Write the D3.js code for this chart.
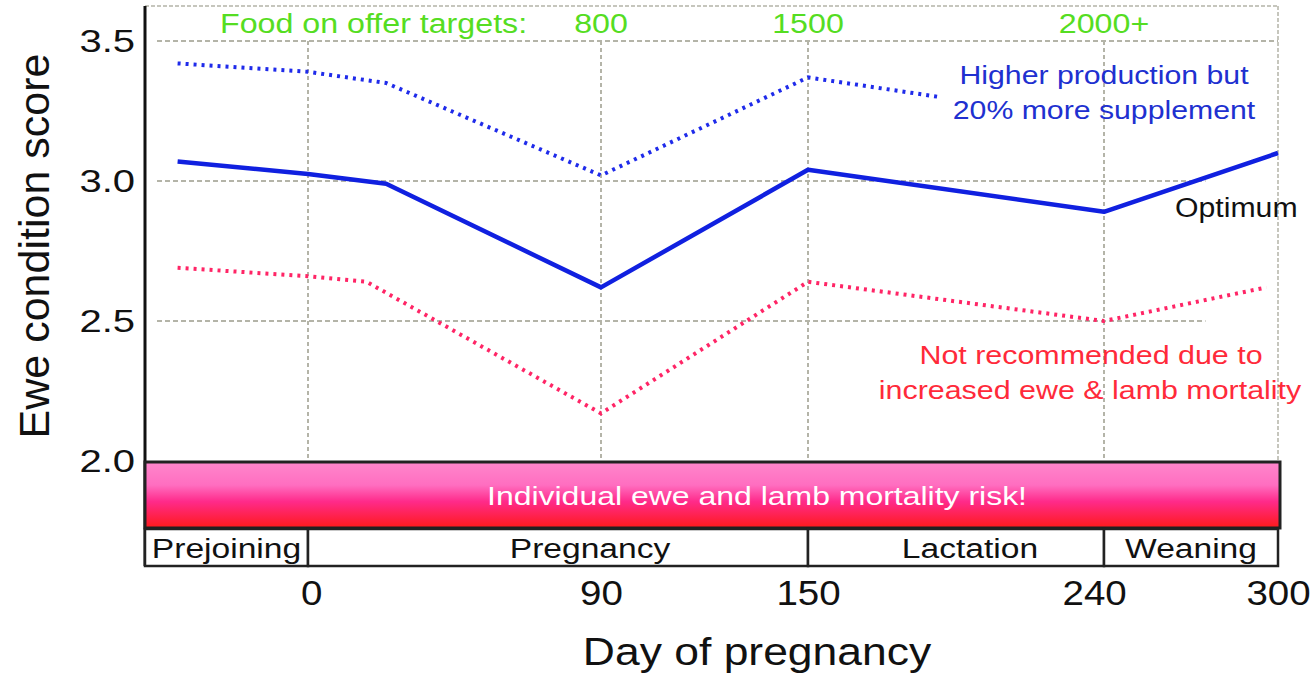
<!DOCTYPE html>
<html><head><meta charset="utf-8">
<script src="https://cdn.jsdelivr.net/npm/d3@7"></script>
<style>body{margin:0;background:#fff}svg{display:block}text{font-family:"Liberation Sans",Arial,Helvetica,sans-serif}</style>
</head><body><svg id="c" width="1312" height="674"></svg>
<script>
// ---- data ----
const xTicks = [0, 90, 150, 240, 300];
const yTicks = [2.0, 2.5, 3.0, 3.5];
const optimumDays   = [-40, 0, 24, 90, 150, 240, 300];
const optimumScore  = [3.07, 3.025, 2.99, 2.62, 3.04, 2.89, 3.10];
const higherDays    = [-40, 0, 24, 90, 150, 190];
const higherScore   = [3.42, 3.39, 3.35, 3.02, 3.37, 3.30];
const lowDays       = [-40, 0, 18, 90, 150, 240, 296];
const lowScore      = [2.69, 2.66, 2.64, 2.17, 2.64, 2.50, 2.62];
const phaseNames    = ["Prejoining", "Pregnancy", "Lactation", "Weaning"];
const phaseStart    = [-50, 0, 150, 240];
const phaseEnd      = [0, 150, 240, 300];
const foodTargets   = ["800", "1500", "2000+"];
const foodDays      = [90, 150, 240];

// ---- layout ----
const svg = d3.select("#c");
const font = '"Liberation Sans",Arial,Helvetica,sans-serif';
const x = d3.scaleLinear().domain([-50, 0, 90, 150, 240, 300]).range([145, 308, 601, 808, 1104, 1278]);
const y = d3.scaleLinear().domain([2.0, 3.5]).range([461, 41]);
const plotTop = 6, bandTop = 462, bandBot = 528, phaseBot = 566;

// text helper with horizontal stretch (the original lettering is wide)
function label(px, py, str, size, color, sx, anchor) {
  return svg.append("text").attr("transform", `translate(${px},${py}) scale(${sx},1)`)
    .attr("text-anchor", anchor || "middle").attr("font-size", size).attr("fill", color).text(str);
}

// gradient
const defs = svg.append("defs");
const g = defs.append("linearGradient").attr("id", "band").attr("x1", 0).attr("y1", 0).attr("x2", 0).attr("y2", 1);
g.append("stop").attr("offset", "0%").attr("stop-color", "#ff86cc");
g.append("stop").attr("offset", "35%").attr("stop-color", "#ff6ec0");
g.append("stop").attr("offset", "60%").attr("stop-color", "#ff2a8a");
g.append("stop").attr("offset", "100%").attr("stop-color", "#ff1a1a");

// grid
const gridCol = "#b4b4a8";
svg.append("line").attr("x1", 145).attr("x2", x(300)).attr("y1", plotTop).attr("y2", plotTop)
  .attr("stroke", gridCol).attr("stroke-width", 1.5).attr("stroke-dasharray", "4,2");
svg.append("line").attr("x1", x(300)).attr("x2", x(300)).attr("y1", plotTop).attr("y2", bandTop)
  .attr("stroke", gridCol).attr("stroke-width", 1.5).attr("stroke-dasharray", "4,2");
[[3.5, 300], [3.0, 275], [2.5, 275]].forEach(([v, end]) => {
  svg.append("line").attr("x1", 157).attr("x2", x(end)).attr("y1", y(v)).attr("y2", y(v))
    .attr("stroke", gridCol).attr("stroke-width", 2).attr("stroke-dasharray", "5,3");
});
xTicks.filter(d => d < 300).forEach(d => {
  svg.append("line").attr("x1", x(d)).attr("x2", x(d)).attr("y1", y(3.5)).attr("y2", bandTop)
    .attr("stroke", gridCol).attr("stroke-width", 2).attr("stroke-dasharray", "4,3");
});

// y axis
const yAxis = d3.axisLeft(y).tickValues(yTicks).tickFormat(d3.format(".1f")).tickSize(0).tickPadding(8);
const ya = svg.append("g").attr("transform", "translate(145,0)").call(yAxis);
ya.select(".domain").remove();
ya.selectAll("text").attr("font-size", 32).attr("font-family", font).attr("fill", "#111")
  .attr("transform", "scale(1.25,1)");
svg.append("line").attr("x1", 145).attr("x2", 145).attr("y1", plotTop).attr("y2", phaseBot)
  .attr("stroke", "#111").attr("stroke-width", 3);

svg.append("text").attr("transform", "translate(49,246) rotate(-90)").attr("text-anchor", "middle")
  .attr("font-size", 43).attr("fill", "#111").text("Ewe condition score");

// lines
const line = d3.line().x(d => x(d[0])).y(d => y(d[1]));
const zip = (a, b) => a.map((v, i) => [v, b[i]]);
svg.append("path").datum(zip(higherDays, higherScore)).attr("d", line).attr("fill", "none")
  .attr("stroke", "#1f2bea").attr("stroke-width", 4).attr("stroke-dasharray", "3,5");
svg.append("path").datum(zip(lowDays, lowScore)).attr("d", line).attr("fill", "none")
  .attr("stroke", "#ff2566").attr("stroke-width", 4).attr("stroke-dasharray", "3,5");
svg.append("path").datum(zip(optimumDays, optimumScore)).attr("d", line).attr("fill", "none")
  .attr("stroke", "#1020e0").attr("stroke-width", 4.5).attr("stroke-linejoin", "round");

// band
svg.append("rect").attr("x", 145).attr("y", bandTop).attr("width", 1280 - 145).attr("height", bandBot - bandTop)
  .attr("fill", "url(#band)").attr("stroke", "#222").attr("stroke-width", 3);
label(757, 505, "Individual ewe and lamb mortality risk!", 26, "#fff", 1.23);

// phases
const phaseShift = [0, 32, 14, 0];
phaseNames.forEach((n, i) => {
  const x0 = i === 0 ? 145 : x(phaseStart[i]), x1 = x(phaseEnd[i]);
  svg.append("rect").attr("x", x0).attr("y", bandBot + 1).attr("width", x1 - x0).attr("height", phaseBot - bandBot - 1)
    .attr("fill", "#fff").attr("stroke", "#222").attr("stroke-width", 2.5);
  label((x0 + x1) / 2 + phaseShift[i], 558, n, 28, "#111", 1.2);
});

// x axis labels
const xAxis = d3.axisBottom(x).tickValues(xTicks).tickFormat(d3.format("d")).tickSize(0).tickPadding(14);
const xa = svg.append("g").attr("transform", `translate(0,${phaseBot})`).call(xAxis);
xa.select(".domain").remove();
xa.selectAll("text").attr("font-size", 35).attr("font-family", font).attr("fill", "#111")
  .attr("transform", "scale(1.1,1)").attr("dx", d => (d === 240 ? -9 : d === 0 ? 3 : 0));
label(757, 665, "Day of pregnancy", 39, "#111", 1.14);

// annotations
const green = "#55dd22";
label(220, 33, "Food on offer targets:", 28, green, 1.15, "start");
foodTargets.forEach((t, i) => label(x(foodDays[i]), 33, t, 28, green, 1.15));
label(x(240), 84, "Higher production but", 25, "#2030d0", 1.21);
label(x(240), 119, "20% more supplement", 25, "#2030d0", 1.21);
label(1175, 217, "Optimum", 27, "#111", 1.12, "start");
label(1091, 364, "Not recommended due to", 26, "#ff2a3a", 1.17);
label(1090, 399, "increased ewe & lamb mortality", 26, "#ff2a3a", 1.17);
</script></body></html>
